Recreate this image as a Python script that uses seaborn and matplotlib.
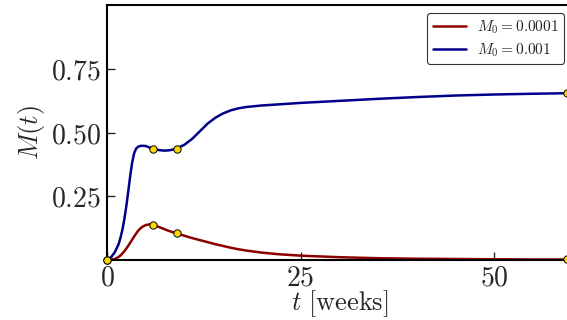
import matplotlib
matplotlib.use("Agg")
import matplotlib.pyplot as plt
import seaborn as sns
import pandas as pd

# ---- data ----
t_curve = [0, 0.5, 1, 1.5, 1.75, 2, 2.25, 2.5, 2.75, 3, 3.25, 3.5, 3.75, 4, 4.25, 4.5,
           5, 5.5, 6, 6.5, 7, 7.5, 8, 8.5, 9, 10, 11, 12, 13, 14, 15, 16, 17, 18, 20,
           22, 25, 30, 35, 40, 45, 50, 55, 59.4]
m_high = [0.0, 0.01, 0.03, 0.062, 0.088, 0.12, 0.162, 0.212, 0.27, 0.33, 0.382, 0.418,
          0.436, 0.444, 0.447, 0.448, 0.447, 0.441, 0.436, 0.432, 0.43, 0.429, 0.43,
          0.433, 0.437, 0.452, 0.475, 0.505, 0.535, 0.558, 0.575, 0.587, 0.595, 0.60,
          0.606, 0.61, 0.616, 0.624, 0.632, 0.639, 0.645, 0.649, 0.652, 0.654]
m_low = [0.0, 0.001, 0.004, 0.012, 0.018, 0.026, 0.035, 0.045, 0.056, 0.068, 0.08,
         0.092, 0.103, 0.114, 0.122, 0.129, 0.137, 0.14, 0.138, 0.132, 0.126, 0.12,
         0.114, 0.109, 0.104, 0.095, 0.086, 0.078, 0.07, 0.062, 0.055, 0.048, 0.042,
         0.037, 0.029, 0.023, 0.017, 0.011, 0.007, 0.005, 0.004, 0.003, 0.002, 0.002]
t_marks = [0, 6, 9, 59.4]
high_marks = [0.0, 0.436, 0.437, 0.654]
low_marks = [0.0, 0.138, 0.104, 0.002]
series_labels = [r"$M_0 = 0.0001$", r"$M_0 = 0.001$"]
x_ticks = [0, 25, 50]
x_ticklabels = [r"$0$", r"$25$", r"$50$"]
y_ticks = [0.25, 0.50, 0.75]
y_ticklabels = [r"$0.25$", r"$0.50$", r"$0.75$"]

sns.set_style("ticks")
plt.rcParams["mathtext.fontset"] = "cm"
plt.rcParams["font.family"] = ["DejaVu Serif"]

colors = {series_labels[0]: "#8b0000", series_labels[1]: "#00008b"}

df = pd.DataFrame({
    "t": t_curve * 2,
    "M": m_low + m_high,
    "series": [series_labels[0]] * len(t_curve) + [series_labels[1]] * len(t_curve),
})
dm = pd.DataFrame({"t": t_marks * 2, "M": low_marks + high_marks})

fig = plt.figure(figsize=(5.67, 3.2), dpi=100)
ax = fig.add_axes([107 / 567, 60 / 320, 464.5 / 567, 255 / 320])

sns.lineplot(data=df, x="t", y="M", hue="series", palette=colors, lw=1.8, ax=ax,
             hue_order=series_labels)
sns.scatterplot(data=dm, x="t", y="M", color="#ffd700", edgecolor="black",
                linewidth=0.7, s=28, zorder=5, clip_on=False, ax=ax, legend=False)

ax.set_xlim(0, 60)
ax.set_ylim(0, 1.0)
ax.set_xticks(x_ticks)
ax.set_xticklabels(x_ticklabels)
ax.set_yticks(y_ticks)
ax.set_yticklabels(y_ticklabels)
ax.tick_params(direction="in", length=6, width=1, labelsize=20)
ax.tick_params(axis="x", pad=3)
ax.tick_params(axis="y", pad=4)

for side in ["left", "bottom", "top"]:
    ax.spines[side].set_linewidth(1.5)
    ax.spines[side].set_color("black")
ax.spines["right"].set_visible(False)

ax.set_xlabel(r"$t\ \mathrm{[weeks]}$", fontsize=19, labelpad=-2)
ax.set_ylabel(r"$M(t)$", fontsize=19, labelpad=3)

leg = ax.legend(loc="upper right", fontsize=11, frameon=True, fancybox=True,
                handlelength=2.2, handletextpad=0.7, borderpad=0.35,
                labelspacing=0.35)
leg.get_frame().set_edgecolor("black")
leg.get_frame().set_linewidth(0.8)
for h in leg.get_lines():
    h.set_linewidth(1.8)

fig.savefig("out.png", dpi=100)
